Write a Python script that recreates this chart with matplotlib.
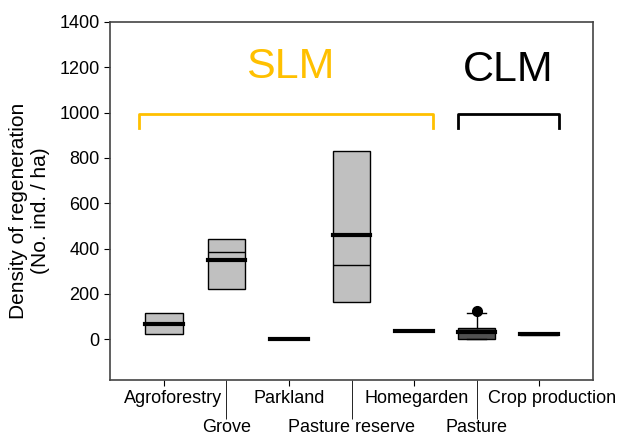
import matplotlib.pyplot as plt
import matplotlib.transforms as mtransforms
import numpy as np

plt.rcParams['font.family'] = ['Liberation Sans', 'DejaVu Sans']

# data
categories = ['Agroforestry', 'Grove', 'Parkland', 'Pasture reserve',
              'Homegarden', 'Pasture', 'Crop production']
q1 = [22, 222, 3, 164, 36, 0, 18]
med = [65, 351, 3, 462, 36, 33, 21]
q3 = [115, 444, 3, 831, 36, 50, 24]
means = [65, 387, 3, 329, 36, 33, 21]
whislo = [22, 222, 3, 164, 36, 0, 18]
whishi = [115, 444, 3, 831, 36, 115, 24]
fliers = [[], [], [], [], [], [126], []]
box_colors = ['#c0c0c0', '#c0c0c0', '#c0c0c0', '#c0c0c0', '#c0c0c0', '#505050', '#303030']

stats = []
for i, name in enumerate(categories):
    stats.append(dict(label=name, q1=q1[i], med=med[i], q3=q3[i], mean=means[i],
                      whislo=whislo[i], whishi=whishi[i], fliers=fliers[i]))

fig = plt.figure(figsize=(6.19, 4.37), dpi=100)
ax = fig.add_axes([110 / 619, 1 - 380 / 437, 483 / 619, 358 / 437])

pos = np.arange(1, len(categories) + 1)
# caps only where a whisker is actually visible
capw = [0.3 if hi > top else 0.0 for hi, top in zip(whishi, q3)]
bp = ax.bxp(stats, positions=pos, widths=0.6, capwidths=capw, patch_artist=True,
            showmeans=True, meanline=True,
            boxprops=dict(edgecolor='black', linewidth=1),
            medianprops=dict(color='black', linewidth=3, solid_capstyle='projecting'),
            meanprops=dict(color='black', linewidth=1, linestyle='-'),
            whiskerprops=dict(color='black', linewidth=1),
            capprops=dict(color='black', linewidth=1),
            flierprops=dict(marker='o', markerfacecolor='black', markeredgecolor='black',
                            markersize=7))
for patch, c in zip(bp['boxes'], box_colors):
    patch.set_facecolor(c)

ax.set_xlim(0.14, 7.86)
ax.set_ylim(-180, 1400)
ax.set_yticks(range(0, 1401, 200))

# alternating x labels: odd positions short ticks, even positions long ticks
ax.set_xticks(pos[::2], labels=categories[::2])
ax.set_xticks(pos[1::2], labels=categories[1::2], minor=True)
ax.tick_params(axis='x', which='major', length=4, pad=3, labelsize=13)
ax.tick_params(axis='x', which='minor', length=28, pad=0, labelsize=13)
ax.tick_params(axis='y', length=4, labelsize=13)

# nudge a few labels right, as in the original layout (pixels)
shift = {'Agroforestry': 9, 'Homegarden': 3, 'Crop production': 13}
for lab in ax.get_xticklabels():
    dx = shift.get(lab.get_text(), 0)
    if dx:
        lab.set_transform(lab.get_transform() +
                          mtransforms.ScaledTranslation(dx / 100, 0, fig.dpi_scale_trans))

for s in ax.spines.values():
    s.set_color('#444444')
    s.set_linewidth(1.2)

ax.set_ylabel('Density of regeneration\n(No. ind. / ha)', fontsize=15,
              va='center', ha='center', multialignment='center')
ax.yaxis.set_label_coords(-0.166, 0.472)

# group brackets
gold = '#FFC000'
ax.plot([0.604, 0.604, 5.31, 5.31], [933, 996, 996, 933], color=gold, lw=2, clip_on=False)
ax.plot([5.71, 5.71, 7.32, 7.32], [933, 996, 996, 933], color='black', lw=2, clip_on=False)
ax.text(3.02, 1200, 'SLM', color=gold, fontsize=31, ha='center', va='center')
ax.text(6.51, 1190, 'CLM', color='black', fontsize=31, ha='center', va='center')

fig.savefig('out.png', dpi=100)
